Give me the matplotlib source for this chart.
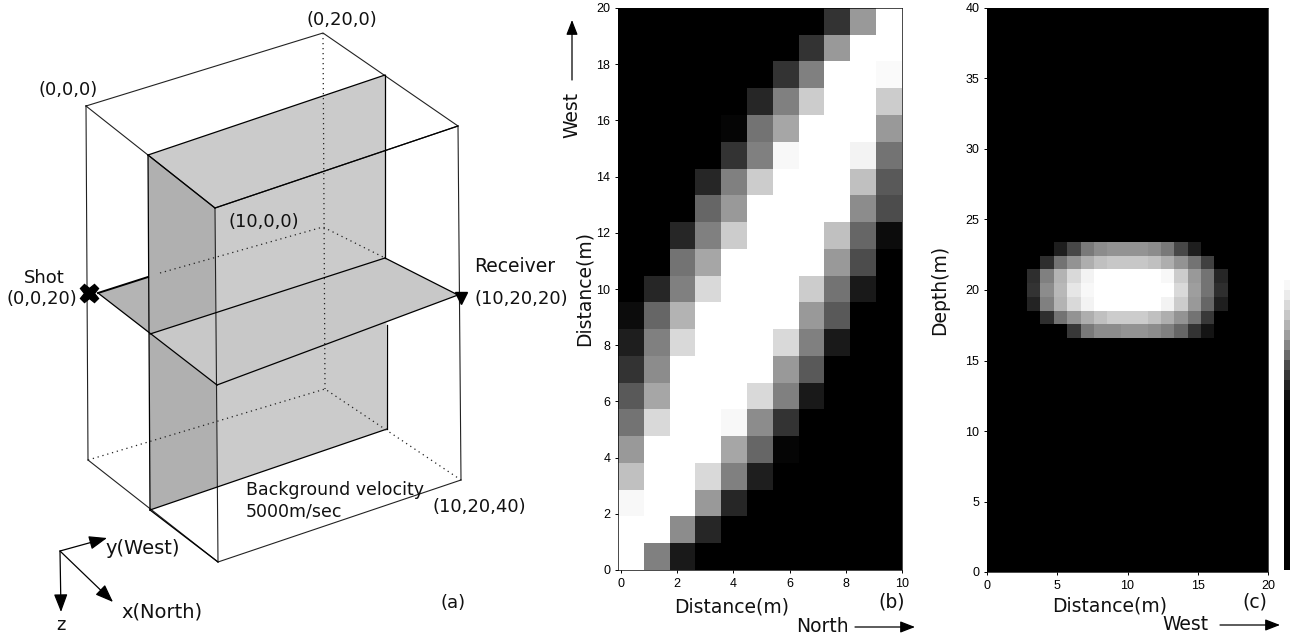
import numpy as np
import matplotlib
matplotlib.use('Agg')
import matplotlib.pyplot as plt
from matplotlib.patches import Polygon

W, H = 1290, 637

# panel (b): 21 rows from y=20 down to y=0, 11 columns from x=0 to x=10
panel_b = [
    [0, 0, 0, 0, 0, 0, 0, 0, .20, .60, 1],
    [0, 0, 0, 0, 0, 0, 0, .20, .60, 1, 1],
    [0, 0, 0, 0, 0, 0, .20, .50, 1, 1, .98],
    [0, 0, 0, 0, 0, .15, .50, .80, 1, 1, .80],
    [0, 0, 0, 0, .02, .45, .65, 1, 1, 1, .60],
    [0, 0, 0, 0, .20, .50, .97, 1, 1, .95, .45],
    [0, 0, 0, .15, .50, .80, 1, 1, 1, .75, .35],
    [0, 0, 0, .40, .60, 1, 1, 1, 1, .55, .30],
    [0, 0, .15, .50, .80, 1, 1, 1, .75, .40, .05],
    [0, 0, .45, .65, 1, 1, 1, 1, .60, .30, 0],
    [0, .15, .50, .85, 1, 1, 1, .80, .45, .10, 0],
    [.05, .40, .70, 1, 1, 1, 1, .60, .35, 0, 0],
    [.12, .50, .85, 1, 1, 1, .85, .50, .10, 0, 0],
    [.20, .55, 1, 1, 1, 1, .60, .35, 0, 0, 0],
    [.35, .65, 1, 1, 1, .85, .50, .10, 0, 0, 0],
    [.45, .85, 1, 1, .97, .55, .20, 0, 0, 0, 0],
    [.60, 1, 1, 1, .65, .40, .02, 0, 0, 0, 0],
    [.75, 1, 1, .85, .50, .12, 0, 0, 0, 0, 0],
    [.97, 1, 1, .60, .15, 0, 0, 0, 0, 0, 0],
    [1, 1, .55, .15, 0, 0, 0, 0, 0, 0, 0],
    [1, .50, .10, 0, 0, 0, 0, 0, 0, 0, 0],
]

# panel (c): the only non black rows, depth 23 down to depth 17, columns 0..20
blob_rows = [23, 22, 21, 20, 19, 18, 17]
blob_vals = [
    [0, 0, 0, 0, 0, .12, .28, .48, .55, .58, .58, .58, .55, .48, .28, .12, 0, 0, 0, 0, 0],
    [0, 0, 0, 0, .18, .45, .58, .68, .75, .78, .78, .78, .75, .68, .58, .45, .25, 0, 0, 0, 0],
    [0, 0, 0, .18, .50, .70, .85, .95, 1, 1, 1, 1, 1, .97, .80, .60, .45, .15, 0, 0, 0],
    [0, 0, 0, .20, .55, .72, .90, .97, 1, 1, 1, 1, 1, 1, .85, .62, .45, .18, 0, 0, 0],
    [0, 0, 0, .14, .50, .70, .85, .95, 1, 1, 1, 1, 1, .95, .80, .60, .40, .12, 0, 0, 0],
    [0, 0, 0, 0, .18, .45, .58, .68, .75, .80, .80, .80, .75, .68, .58, .45, .22, 0, 0, 0, 0],
    [0, 0, 0, 0, 0, 0, .22, .48, .55, .55, .58, .58, .55, .50, .40, .20, .08, 0, 0, 0, 0],
]

bar_levels = [1, 1, 1, .97, .92, .85, .78, .70, .62, .52, .42, .30, .22, .14, .07, .02] + [0] * 16

ticks_b_x = [0, 2, 4, 6, 8, 10]
ticks_b_y = [0, 2, 4, 6, 8, 10, 12, 14, 16, 18, 20]
ticks_c_x = [0, 5, 10, 15, 20]
ticks_c_y = [0, 5, 10, 15, 20, 25, 30, 35, 40]

# sketch (a), points in picture pixels
top_face = [(86, 106), (323, 33), (458, 126), (215, 208)]
bottom_front = [(88, 460), (218, 562), (461, 480)]
hidden_bottom = [(88, 460), (325, 389), (461, 480)]
hidden_mid = [(160, 273), (323, 227), (385, 258)]
hidden_vert = [(323, 33), (325, 389)]
verticals = [[(86, 106), (88, 460)], [(215, 208), (218, 562)], [(458, 126), (461, 480)]]
plane_v_left = [(148, 155), (215, 208), (217, 487), (150, 510)]
plane_v_right = [(148, 155), (385, 75), (387, 429), (217, 487), (215, 208)]
plane_h_left = [(98, 293), (148, 277), (150, 334)]
plane_h_right = [(150, 334), (385, 258), (458, 295), (217, 385)]
lines_solid = [
    [(148, 155), (385, 75)], [(385, 75), (385, 258)], [(148, 155), (150, 510)],
    [(150, 510), (387, 429)], [(387, 429), (387, 325)], [(150, 510), (218, 562)],
    [(150, 334), (385, 258)], [(385, 258), (458, 295)], [(458, 295), (217, 385)],
    [(98, 293), (217, 385)], [(215, 208), (458, 126)], [(148, 155), (215, 208)],
]
triad_origin = (60, 551)
triad_tips = [(107, 538), (113, 602), (61, 612)]


def pix_axes(fig, left, right, top, bottom):
    return fig.add_axes([left / W, 1 - bottom / H, (right - left) / W, (bottom - top) / H])


fig = plt.figure(figsize=(W / 100, H / 100), dpi=100, facecolor='white')
plt.rcParams['font.family'] = 'DejaVu Sans'

# panel b, the cells start a little left of the 0 tick
axb = pix_axes(fig, 618, 902, 8, 570)
axb.imshow(np.array(panel_b), cmap='gray', vmin=0, vmax=1, aspect='auto',
           extent=[-0.1, 10, 0, 20], interpolation='nearest')
axb.set_xticks(ticks_b_x)
axb.set_yticks(ticks_b_y)

# panel c
blob = np.zeros((41, 21))
for r, vals in zip(blob_rows, blob_vals):
    blob[40 - r] = vals
axc = pix_axes(fig, 987, 1268, 8, 572)
axc.imshow(blob, cmap='gray', vmin=0, vmax=1, aspect='auto',
           extent=[0, 20, 0, 40], interpolation='nearest')
axc.set_xticks(ticks_c_x)
axc.set_yticks(ticks_c_y)

for ax in (axb, axc):
    ax.tick_params(labelsize=9, length=2.5, width=0.7, pad=3)
    for lab in ax.get_xticklabels() + ax.get_yticklabels():
        lab.set_family('Liberation Sans')
    for s in ax.spines.values():
        s.set_linewidth(0.5)

# colour bar, cut by the edge of the picture
axbar = pix_axes(fig, 1284, 1290, 250, 570)
axbar.imshow(np.array(bar_levels).reshape(-1, 1), cmap='gray', vmin=0, vmax=1, aspect='auto')
axbar.axis('off')

# overlay in pixel coordinates for sketch and labels
ov = fig.add_axes([0, 0, 1, 1], zorder=-1)
ov.set_xlim(0, W)
ov.set_ylim(H, 0)
ov.axis('off')
top = fig.add_axes([0, 0, 1, 1], zorder=5)
top.set_xlim(0, W)
top.set_ylim(H, 0)
top.axis('off')

ov.add_patch(Polygon(plane_h_left, closed=True, fc='#b4b4b4', ec='none', zorder=1))
ov.add_patch(Polygon(plane_v_right, closed=True, fc='#cbcbcb', ec='none', zorder=2))
ov.add_patch(Polygon(plane_v_left, closed=True, fc='#b0b0b0', ec='none', zorder=2))
ov.add_patch(Polygon(plane_h_right, closed=True, fc='#c8c8c8', ec='none', zorder=3))


def draw(pts, **kw):
    xs, ys = zip(*pts)
    ov.plot(xs, ys, **kw)


for pts in [top_face + top_face[:1], bottom_front] + verticals:
    draw(pts, color='#222222', lw=0.8, zorder=4)
for pts in lines_solid:
    draw(pts, color='black', lw=0.9, zorder=4)
draw([(98, 293), (148, 277)], color='black', lw=1.4, zorder=4)
for pts in [hidden_bottom, hidden_mid, hidden_vert]:
    draw(pts, color='#222222', lw=0.9, ls=(0, (1, 3)), zorder=5)

ov.plot([89], [293], marker='X', ms=13, color='black', zorder=6)
ov.plot([461], [298], marker='v', ms=9, color='black', zorder=6)

for tip in triad_tips:
    ov.annotate('', xy=tip, xytext=triad_origin,
                arrowprops=dict(arrowstyle='-|>,head_width=0.42,head_length=1.1',
                                color='black', lw=0.9, shrinkA=0, shrinkB=0))

txt = dict(fontsize=13, ha='center', va='center', color='#111111')
left = dict(fontsize=13.5, ha='left', va='center', color='#111111')
top.text(342, 20, '(0,20,0)', **txt)
top.text(68, 90, '(0,0,0)', **txt)
top.text(264, 222, '(10,0,0)', **txt)
top.text(44, 278, 'Shot', **txt)
top.text(42, 299, '(0,0,20)', **txt)
top.text(474, 267, 'Receiver', **left)
top.text(474, 299, '(10,20,20)', fontsize=13, ha='left', va='center', color='#111111')
top.text(246, 490, 'Background velocity', fontsize=12.5, ha='left', va='center', color='#111111')
top.text(246, 511, '5000m/sec', fontsize=12.5, ha='left', va='center', color='#111111')
top.text(479, 507, '(10,20,40)', **txt)
top.text(143, 548, 'y(West)', fontsize=14, ha='center', va='center', color='#111111')
top.text(162, 612, 'x(North)', fontsize=14, ha='center', va='center', color='#111111')
top.text(61, 625, 'z', **txt)
top.text(453, 603, '(a)', **txt)

lab = dict(fontsize=13.5, ha='center', va='center', color='#111111')
top.text(732, 607, 'Distance(m)', **lab)
top.text(584, 288, 'Distance(m)', rotation=90, **lab)
top.text(572, 115, 'West', rotation=90, **lab)
top.text(822, 627, 'North', **lab)
top.text(892, 602, '(b)', **lab)
top.text(1110, 606, 'Distance(m)', **lab)
top.text(940, 290, 'Depth(m)', rotation=90, **lab)
top.text(1185, 625, 'West', **lab)
top.text(1255, 602, '(c)', **lab)

arrow = dict(arrowstyle='-|>,head_width=0.35,head_length=0.9', color='black', lw=0.9,
             shrinkA=0, shrinkB=0)
top.annotate('', xy=(572, 20), xytext=(572, 80), arrowprops=arrow)
top.annotate('', xy=(915, 627), xytext=(855, 627), arrowprops=arrow)
top.annotate('', xy=(1280, 625), xytext=(1220, 625), arrowprops=arrow)

fig.savefig('out.png', dpi=100)
